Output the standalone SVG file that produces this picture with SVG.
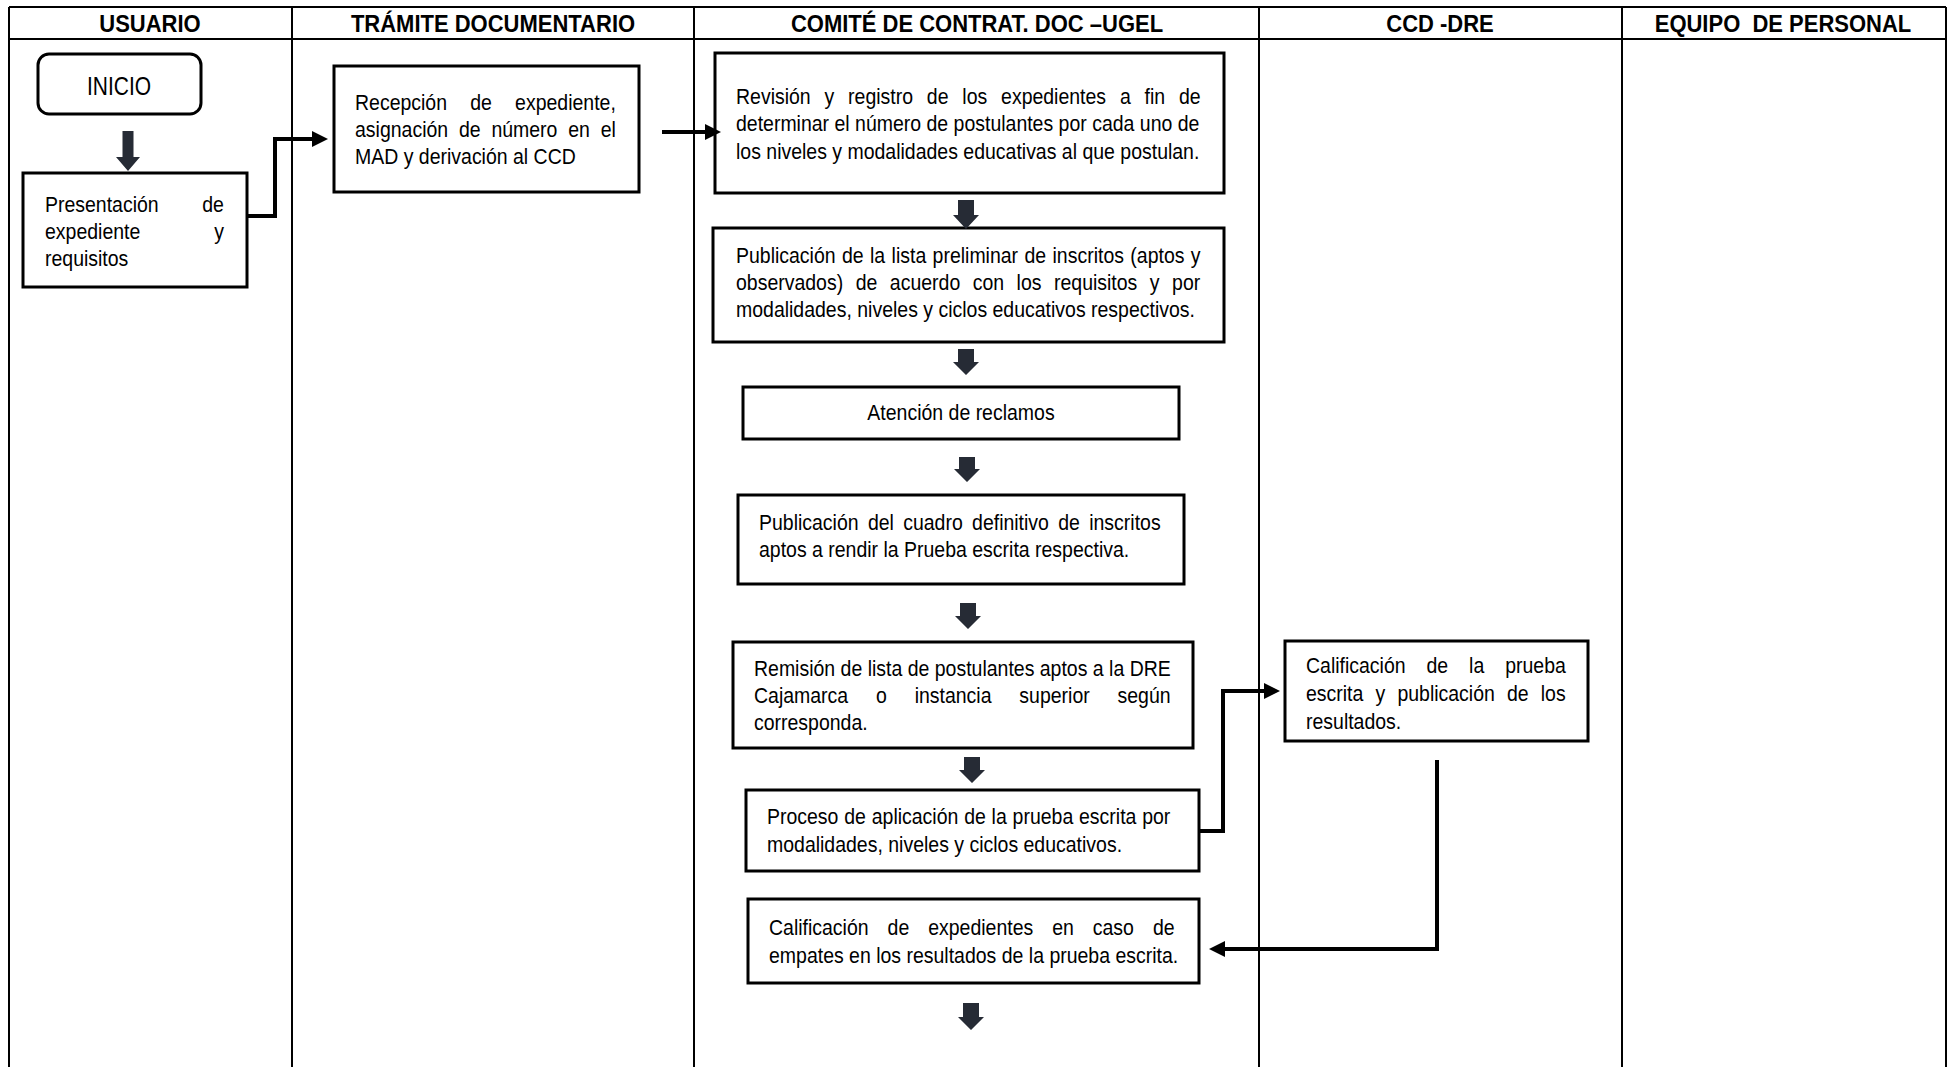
<svg xmlns="http://www.w3.org/2000/svg" width="1950" height="1067" viewBox="0 0 1950 1067">
<style>
.lane{stroke:#000;stroke-width:2;fill:none}
.box{fill:#fff;stroke:#000;stroke-width:3}
.t{font-family:"Liberation Sans",Arial,sans-serif;font-size:22px;fill:#000}
.h{font-family:"Liberation Sans",Arial,sans-serif;font-size:23.5px;font-weight:bold;fill:#000;text-anchor:middle;white-space:pre}
.blk{fill:#262b35}
.conn{fill:none;stroke:#000;stroke-width:4}
</style>
<defs>
<marker id="ah" markerUnits="userSpaceOnUse" markerWidth="17" markerHeight="16" refX="0" refY="8" orient="auto">
<path d="M0,0 L16,8 L0,16 z" fill="#000"/>
</marker>
</defs>
<rect width="1950" height="1067" fill="#fff"/>
<g id="lanes">
<path class="lane" d="M9,7 H1946 M9,39 H1946 M9,7 V1067 M292,7 V1067 M694,7 V1067 M1259,7 V1067 M1622,7 V1067 M1946,7 V1067"/>
<text class="h" transform="translate(150 32) scale(.936 1)">USUARIO</text>
<text class="h" transform="translate(493 32) scale(.936 1)">TRÁMITE DOCUMENTARIO</text>
<text class="h" transform="translate(977 32) scale(.936 1)">COMITÉ DE CONTRAT. DOC –UGEL</text>
<text class="h" transform="translate(1440 32) scale(.936 1)">CCD -DRE</text>
<text class="h" transform="translate(1783 32) scale(.936 1)">EQUIPO  DE PERSONAL</text>
</g>
<g id="inicio">
<rect class="box" x="38" y="54" width="163" height="60" rx="11"/>
<text class="t" transform="translate(119 95) scale(.84 1)" style="font-size:25px" text-anchor="middle">INICIO</text>
</g>
<g id="presentacion">
<rect class="box" x="23" y="173" width="224" height="114"/>
<text class="t" transform="translate(45 212) scale(.886 1)" word-spacing="43">Presentación de</text>
<text class="t" transform="translate(45 239) scale(.886 1)" word-spacing="77.3">expediente y</text>
<text class="t" transform="translate(45 266) scale(.886 1)">requisitos</text>
</g>
<g id="recepcion">
<rect class="box" x="334" y="66" width="305" height="126"/>
<text class="t" transform="translate(355 110) scale(.886 1)" word-spacing="20.1">Recepción de expediente,</text>
<text class="t" transform="translate(355 137) scale(.886 1)" word-spacing="6.1">asignación de número en el</text>
<text class="t" transform="translate(355 164) scale(.886 1)">MAD y derivación al CCD</text>
</g>
<g id="revision">
<rect class="box" x="715" y="53" width="509" height="140"/>
<text class="t" transform="translate(736 104) scale(.886 1)" word-spacing="9.5">Revisión y registro de los expedientes a fin de</text>
<text class="t" transform="translate(736 131) scale(.886 1)">determinar el número de postulantes por cada uno de</text>
<text class="t" transform="translate(736 159) scale(.886 1)">los niveles y modalidades educativas al que postulan.</text>
</g>
<g id="publicacion-lista">
<rect class="box" x="713" y="228" width="511" height="114"/>
<text class="t" transform="translate(736 263) scale(.886 1)" word-spacing="1.1">Publicación de la lista preliminar de inscritos (aptos y</text>
<text class="t" transform="translate(736 290) scale(.886 1)" word-spacing="8">observados) de acuerdo con los requisitos y por</text>
<text class="t" transform="translate(736 317) scale(.886 1)">modalidades, niveles y ciclos educativos respectivos.</text>
</g>
<g id="atencion">
<rect class="box" x="743" y="387" width="436" height="52"/>
<text class="t" transform="translate(961 420) scale(.886 1)" text-anchor="middle">Atención de reclamos</text>
</g>
<g id="publicacion-cuadro">
<rect class="box" x="738" y="495" width="446" height="89"/>
<text class="t" transform="translate(759 530) scale(.886 1)" word-spacing="4.4">Publicación del cuadro definitivo de inscritos</text>
<text class="t" transform="translate(759 557) scale(.886 1)">aptos a rendir la Prueba escrita respectiva.</text>
</g>
<g id="remision">
<rect class="box" x="733" y="642" width="460" height="106"/>
<text class="t" transform="translate(754 676) scale(.886 1)">Remisión de lista de postulantes aptos a la DRE</text>
<text class="t" transform="translate(754 703) scale(.886 1)" word-spacing="25.3">Cajamarca o instancia superior según</text>
<text class="t" transform="translate(754 730) scale(.886 1)">corresponda.</text>
</g>
<g id="proceso">
<rect class="box" x="746" y="790" width="453" height="81"/>
<text class="t" transform="translate(767 824) scale(.886 1)" word-spacing="0.45">Proceso de aplicación de la prueba escrita por</text>
<text class="t" transform="translate(767 852) scale(.886 1)">modalidades, niveles y ciclos educativos.</text>
</g>
<g id="calificacion-prueba">
<rect class="box" x="1285" y="641" width="303" height="100"/>
<text class="t" transform="translate(1306 673) scale(.886 1)" word-spacing="17.5">Calificación de la prueba</text>
<text class="t" transform="translate(1306 701) scale(.886 1)" word-spacing="7.6">escrita y publicación de los</text>
<text class="t" transform="translate(1306 729) scale(.886 1)">resultados.</text>
</g>
<g id="calificacion-expedientes">
<rect class="box" x="748" y="899" width="451" height="84"/>
<text class="t" transform="translate(769 935) scale(.886 1)" word-spacing="15.3">Calificación de expedientes en caso de</text>
<text class="t" transform="translate(769 963) scale(.886 1)">empates en los resultados de la prueba escrita.</text>
</g>
<g id="connectors">
<path class="conn" d="M247,216 H275 V139 H312" marker-end="url(#ah)"/>
<path class="conn" d="M662,132 H705" marker-end="url(#ah)"/>
<path class="conn" d="M1200,831 H1223 V691 H1264" marker-end="url(#ah)"/>
<path class="conn" d="M1437,760 V949 H1225" marker-end="url(#ah)"/>
<path class="blk" d="M122.5,131 H133.5 V157 H140 L128,171 L116,157 H122.5Z"/>
<path class="blk" d="M958,200 H974 V215 H979 L966,229 L953,215 H958Z"/>
<path class="blk" d="M958,349 H974 V362 H979 L966,375 L953,362 H958Z"/>
<path class="blk" d="M959,457 H975 V469 H980 L967,482 L954,469 H959Z"/>
<path class="blk" d="M960,603 H976 V616 H981 L968,629 L955,616 H960Z"/>
<path class="blk" d="M964,757 H980 V770 H985 L972,783 L959,770 H964Z"/>
<path class="blk" d="M963,1003 H979 V1017 H984 L971,1030 L958,1017 H963Z"/>
</g>
</svg>
